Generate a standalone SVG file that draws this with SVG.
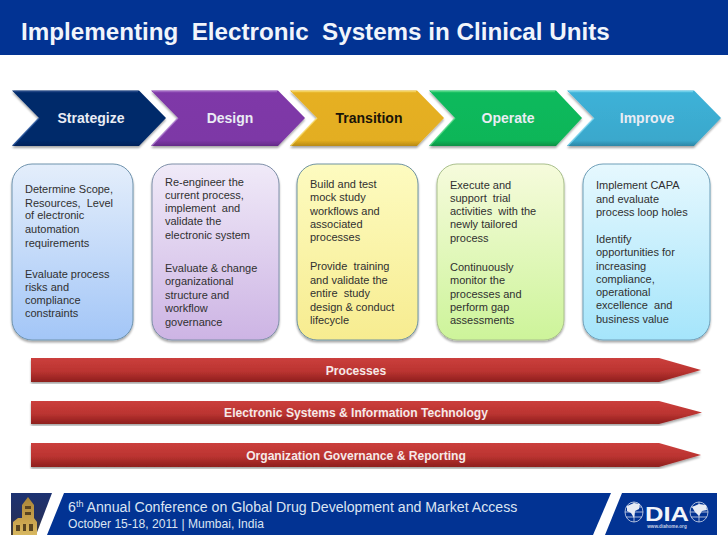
<svg xmlns="http://www.w3.org/2000/svg" width="728" height="546" viewBox="0 0 728 546">
<style>
text{font-family:"Liberation Sans",Arial,sans-serif;white-space:pre}
.title{font-size:24.2px;font-weight:bold;fill:#f1f5fb}
.ch{font-size:14px;font-weight:bold;fill:#e9ecf4;text-anchor:middle}
.body{font-size:11px;fill:#303030}
.bar{font-size:12.1px;font-weight:bold;fill:#f6e9e8;text-anchor:middle}
.card{stroke-width:1;filter:url(#sh)}
.hl{fill:none;stroke-width:1.6;stroke-opacity:.75}
.f1{font-size:14.15px;fill:#dbe4f2}
.f2{font-size:12.1px;fill:#dbe4f2}
</style>
<defs>
<filter id="sh" x="-5%" y="-5%" width="110%" height="112%"><feGaussianBlur in="SourceAlpha" stdDeviation="1.2"/><feOffset dy="2"/><feComponentTransfer><feFuncA type="linear" slope=".35"/></feComponentTransfer><feMerge><feMergeNode/><feMergeNode in="SourceGraphic"/></feMerge></filter>
<linearGradient id="g1" x1="0" y1="0" x2="0" y2="1"><stop offset="0" stop-color="#e4eefb"/><stop offset="1" stop-color="#a3c6f7"/></linearGradient>
<linearGradient id="g2" x1="0" y1="0" x2="0" y2="1"><stop offset="0" stop-color="#f0eaf8"/><stop offset="1" stop-color="#cdb4e4"/></linearGradient>
<linearGradient id="g3" x1="0" y1="0" x2="0" y2="1"><stop offset="0" stop-color="#fdfbc0"/><stop offset="1" stop-color="#f7ec90"/></linearGradient>
<linearGradient id="g4" x1="0" y1="0" x2="0" y2="1"><stop offset="0" stop-color="#f6fbdc"/><stop offset="1" stop-color="#cdf49a"/></linearGradient>
<linearGradient id="g5" x1="0" y1="0" x2="0" y2="1"><stop offset="0" stop-color="#e6f8fe"/><stop offset="1" stop-color="#a5e5fb"/></linearGradient>
<linearGradient id="r" x1="0" y1="0" x2="0" y2="1"><stop offset="0" stop-color="#cb3f3c"/><stop offset=".55" stop-color="#bb3431"/><stop offset="1" stop-color="#8e1f1d"/></linearGradient>
<linearGradient id="c1" x1="0" y1="0" x2="0" y2="1"><stop offset="0" stop-color="#032a6b"/><stop offset=".9" stop-color="#032a6b"/><stop offset="1" stop-color="#02215a"/></linearGradient>
<linearGradient id="c2" x1="0" y1="0" x2="0" y2="1"><stop offset="0" stop-color="#7f38a8"/><stop offset=".9" stop-color="#7d37a6"/><stop offset="1" stop-color="#642a88"/></linearGradient>
<linearGradient id="c3" x1="0" y1="0" x2="0" y2="1"><stop offset="0" stop-color="#e6b020"/><stop offset=".9" stop-color="#e3ae20"/><stop offset="1" stop-color="#b88a14"/></linearGradient>
<linearGradient id="c4" x1="0" y1="0" x2="0" y2="1"><stop offset="0" stop-color="#0cba5c"/><stop offset=".9" stop-color="#0bb659"/><stop offset="1" stop-color="#089145"/></linearGradient>
<linearGradient id="c5" x1="0" y1="0" x2="0" y2="1"><stop offset="0" stop-color="#3db2d8"/><stop offset=".9" stop-color="#3aa8cc"/><stop offset="1" stop-color="#2c86a6"/></linearGradient>
<linearGradient id="ph" x1="0" y1="0" x2="0" y2="1"><stop offset="0" stop-color="#1c3272"/><stop offset=".6" stop-color="#24305e"/><stop offset="1" stop-color="#4a3f30"/></linearGradient>
<linearGradient id="bd" x1="0" y1="0" x2="0" y2="1"><stop offset="0" stop-color="#a88438"/><stop offset=".6" stop-color="#c9a24c"/><stop offset="1" stop-color="#d8b860"/></linearGradient>
</defs>
<rect width="728" height="546" fill="#fff"/>
<g id="header"><rect width="728" height="55" fill="#023393"/><text class="title" x="21" y="40">Implementing  Electronic  Systems in Clinical Units</text></g>

<g id="step-strategize"><polygon points="12,90.5 139,90.5 166,118 139,146 12,146 39,118" fill="url(#c1)" filter="url(#sh)"/><polyline class="hl" points="39,118 13,145.5" stroke="#2c5aa0"/><polyline class="hl" points="14,91.5 138,91.5" stroke="#2c4f8e"/><text class="ch" x="91" y="123">Strategize</text></g>
<g id="step-design"><polygon points="151,90.5 278,90.5 305,118 278,146 151,146 178,118" fill="url(#c2)" filter="url(#sh)"/><polyline class="hl" points="178,118 152,145.5" stroke="#b080d0"/><polyline class="hl" points="153,91.5 277,91.5" stroke="#a870c8"/><text class="ch" x="230" y="123">Design</text></g>
<g id="step-transition"><polygon points="290,90.5 417,90.5 444,118 417,146 290,146 317,118" fill="url(#c3)" filter="url(#sh)"/><polyline class="hl" points="317,118 291,145.5" stroke="#f7dc70"/><polyline class="hl" points="292,91.5 416,91.5" stroke="#f7dc70"/><text class="ch" x="369" y="123" style="fill:#1a1408">Transition</text></g>
<g id="step-operate"><polygon points="429,90.5 556,90.5 582,118 556,146 429,146 455,118" fill="url(#c4)" filter="url(#sh)"/><polyline class="hl" points="455,118 430,145.5" stroke="#5ddc8c"/><polyline class="hl" points="431,91.5 555,91.5" stroke="#5ddc8c"/><text class="ch" x="508" y="123">Operate</text></g>
<g id="step-improve"><polygon points="567,90.5 694,90.5 721,118 694,146 567,146 594,118" fill="url(#c5)" filter="url(#sh)"/><polyline class="hl" points="594,118 568,145.5" stroke="#80d8f0"/><polyline class="hl" points="569,91.5 693,91.5" stroke="#80d8f0"/><text class="ch" x="647" y="123">Improve</text></g>

<g id="card-strategize"><rect class="card" x="12" y="164" width="121" height="176" rx="20" fill="url(#g1)" stroke="#6f93ad"/>
<text class="body" x="25" y="193">Determine Scope,</text><text class="body" x="25" y="206.5">Resources,  Level</text><text class="body" x="25" y="219">of electronic</text><text class="body" x="25" y="232.5">automation</text><text class="body" x="25" y="246.5">requirements</text><text class="body" x="25" y="278">Evaluate process</text><text class="body" x="25" y="291">risks and</text><text class="body" x="25" y="304">compliance</text><text class="body" x="25" y="317">constraints</text></g>
<g id="card-design"><rect class="card" x="152" y="164" width="127" height="176" rx="20" fill="url(#g2)" stroke="#7e8fa8"/>
<text class="body" x="165" y="186">Re-engineer the</text><text class="body" x="165" y="199">current process,</text><text class="body" x="165" y="212">implement  and</text><text class="body" x="165" y="225">validate the</text><text class="body" x="165" y="239">electronic system</text><text class="body" x="165" y="272">Evaluate &amp; change</text><text class="body" x="165" y="285">organizational</text><text class="body" x="165" y="299">structure and</text><text class="body" x="165" y="312">workflow</text><text class="body" x="165" y="326">governance</text></g>
<g id="card-transition"><rect class="card" x="297" y="164" width="121" height="176" rx="20" fill="url(#g3)" stroke="#6f93a0"/>
<text class="body" x="310" y="188">Build and test</text><text class="body" x="310" y="201">mock study</text><text class="body" x="310" y="215">workflows and</text><text class="body" x="310" y="228">associated</text><text class="body" x="310" y="241">processes</text><text class="body" x="310" y="270">Provide  training</text><text class="body" x="310" y="284">and validate the</text><text class="body" x="310" y="297">entire  study</text><text class="body" x="310" y="311">design &amp; conduct</text><text class="body" x="310" y="324">lifecycle</text></g>
<g id="card-operate"><rect class="card" x="437" y="164" width="127" height="176" rx="20" fill="url(#g4)" stroke="#a9bf8c"/>
<text class="body" x="450" y="189">Execute and</text><text class="body" x="450" y="202">support  trial</text><text class="body" x="450" y="215">activities  with the</text><text class="body" x="450" y="228">newly tailored</text><text class="body" x="450" y="242">process</text><text class="body" x="450" y="271">Continuously</text><text class="body" x="450" y="284">monitor the</text><text class="body" x="450" y="298">processes and</text><text class="body" x="450" y="311">perform gap</text><text class="body" x="450" y="324">assessments</text></g>
<g id="card-improve"><rect class="card" x="583" y="164" width="127" height="176" rx="20" fill="url(#g5)" stroke="#6f9fb8"/>
<text class="body" x="596" y="189">Implement CAPA</text><text class="body" x="596" y="203">and evaluate</text><text class="body" x="596" y="216">process loop holes</text><text class="body" x="596" y="243">Identify</text><text class="body" x="596" y="256">opportunities for</text><text class="body" x="596" y="270">increasing</text><text class="body" x="596" y="283">compliance,</text><text class="body" x="596" y="296">operational</text><text class="body" x="596" y="309">excellence  and</text><text class="body" x="596" y="323">business value</text></g>

<g id="bar-processes"><polygon points="31,358 659,358 701,370 659,382 31,382" fill="url(#r)" filter="url(#sh)"/><text class="bar" x="356" y="375">Processes</text></g>
<g id="bar-systems"><polygon points="31,401 659,401 702,412.5 659,424 31,424" fill="url(#r)" filter="url(#sh)"/><text class="bar" x="356" y="417">Electronic Systems &amp; Information Technology</text></g>
<g id="bar-governance"><polygon points="31,443 659,443 701,455 659,467 31,467" fill="url(#r)" filter="url(#sh)"/><text class="bar" x="356" y="460">Organization Governance &amp; Reporting</text></g>

<g id="footer">
<polygon points="11,493 52,493 36,535 11,535" fill="url(#ph)"/>
<polygon points="22,518 22,505 25,501 28,497 31,501 34,505 34,518 37,522 37,535 13,535 13,522 18,518" fill="url(#bd)"/>
<path d="M25 506h6v3h-6zM25 512h6v3h-6zM16 525h4v6h-4zM23 524h3v7h-3zM29 524h4v7h-4z" fill="#5a4420"/>
<polygon points="64,493 611,493 593,535 47,535" fill="#023393"/>
<text class="f1" x="68" y="512">6<tspan font-size="9" dy="-5">th</tspan><tspan dy="5"> Annual Conference on Global Drug Development and Market Access</tspan></text>
<text class="f2" x="68" y="528">October 15-18, 2011 | Mumbai, India</text>
<polygon points="622,493 717,493 717,535 605,535" fill="#023393"/>
<g fill="none" stroke="#cfd8ea" stroke-width=".8"><ellipse cx="634" cy="512" rx="9" ry="10"/><path d="M625 512H643M634 502V522M626 507H642M626 517H642"/><ellipse cx="699" cy="512" rx="9" ry="10"/><path d="M690 512H708M699 502V522M691 507H707M691 517H707"/></g>
<path d="M627 506l7-3 6 1-1 5-4 2-1 7-3-5-4-2zM692 507l7-3 7 1 1 5-5 1-3 5-4-4z" fill="#e6ebf4"/>
<text x="645" y="521" font-size="21" font-weight="bold" fill="#f2f5fa" textLength="44" lengthAdjust="spacingAndGlyphs">DIA</text>
<text x="667" y="527.5" font-size="4.6" font-weight="bold" fill="#c6d1e6" text-anchor="middle">www.diahome.org</text>
</g>
</svg>
